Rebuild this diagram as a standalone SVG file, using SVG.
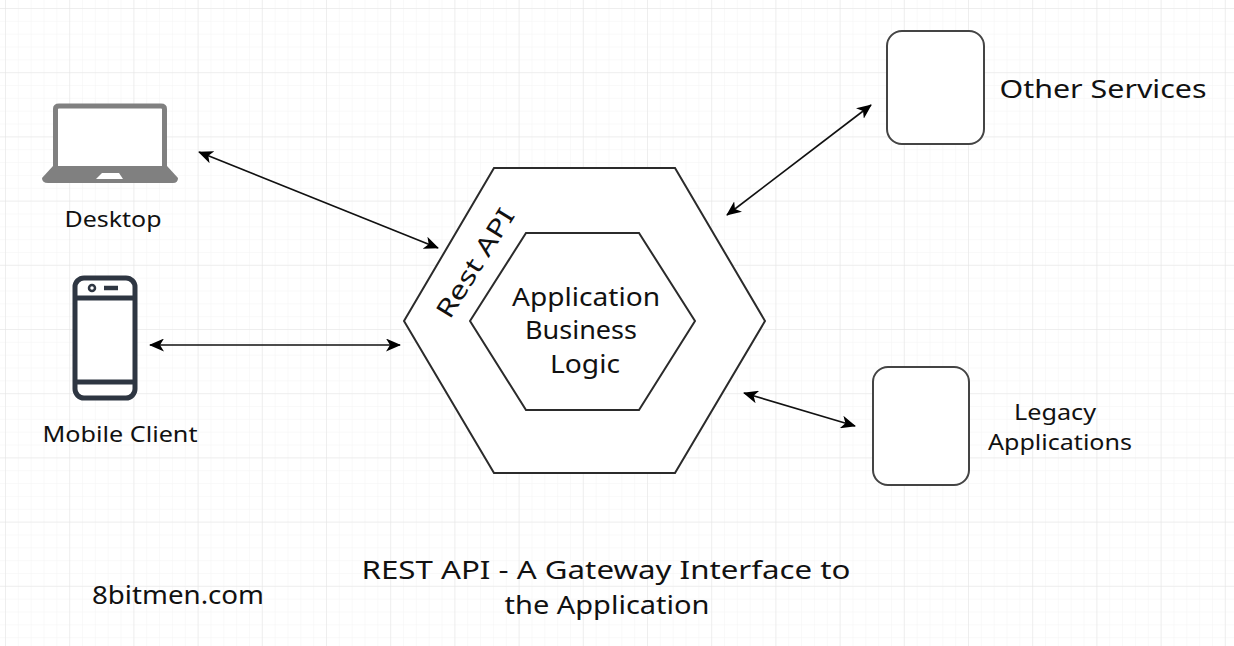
<svg xmlns="http://www.w3.org/2000/svg" width="1234" height="646" viewBox="0 0 1234 646">
<defs>
<pattern id="minor" x="5" y="8" width="12.84" height="12.84" patternUnits="userSpaceOnUse"><path d="M12.84 0H0V12.84" fill="none" stroke="#f4f4f4" stroke-width="1"/></pattern>
<pattern id="major" x="5" y="8" width="64.2" height="64.2" patternUnits="userSpaceOnUse"><path d="M64.2 0H0V64.2" fill="none" stroke="#e4e4e4" stroke-width="1"/></pattern>
<marker id="ah" viewBox="0 0 15 13" refX="14" refY="6.5" markerWidth="15" markerHeight="13" markerUnits="userSpaceOnUse" orient="auto-start-reverse"><path d="M0 0L15 6.5L0 13L4 6.5Z" fill="#000"/></marker>
</defs>
<style>
text{font-family:"Comic Sans MS","Noto Sans","DejaVu Sans",sans-serif;fill:#111;text-anchor:middle}
.hex{fill:#fff;stroke:#2b2b2b;stroke-width:2}
.box{fill:#fff;stroke:#444;stroke-width:2}
.c{stroke:#111;stroke-width:1.7;fill:none;marker-start:url(#ah);marker-end:url(#ah)}
.t26{font-size:26px}.t25{font-size:25px}.t22{font-size:22px}
</style>
<rect width="1234" height="646" fill="#fff"/>
<rect width="1234" height="646" fill="url(#minor)"/>
<rect width="1234" height="646" fill="url(#major)"/>
<g id="desktop">
<path d="M55.500 167V109Q55.500 106 59 106H161Q164.500 106 164.500 109V167" fill="#fff" stroke="#808080" stroke-width="5"/>
<path d="M53 166H167L178 178Q178 183 173 183H48Q42 183 42 178Z" fill="#808080"/>
<path d="M96 179L102 173H119L123 179Z" fill="#fff"/>
<text class="t22" x="113" y="227" textLength="97" lengthAdjust="spacingAndGlyphs">Desktop</text>
</g>
<g id="mobile">
<rect x="75" y="278" width="60" height="120" rx="9" fill="#fff" stroke="#2e3642" stroke-width="5"/>
<path d="M75 298H135M75 382H135" stroke="#2e3642" stroke-width="5" fill="none"/>
<circle cx="92" cy="288" r="3" fill="none" stroke="#2e3642" stroke-width="2.500"/>
<path d="M104 288H118" stroke="#2e3642" stroke-width="4.500"/>
<text class="t22" x="120" y="442" textLength="155" lengthAdjust="spacingAndGlyphs">Mobile Client</text>
</g>
<g id="rest-api">
<polygon class="hex" points="494,168 675,168 765,321 675,473 494,473 404,321"/>
<text class="t25" transform="translate(475 263) rotate(-58)" y="9" textLength="124" lengthAdjust="spacingAndGlyphs">Rest API</text>
</g>
<g id="business-logic">
<polygon class="hex" points="526,233 639,233 695,321 639,410 526,410 470,321"/>
<text class="t26" x="586" y="306" textLength="148" lengthAdjust="spacingAndGlyphs">Application</text>
<text class="t26" x="581" y="339" textLength="112" lengthAdjust="spacingAndGlyphs">Business</text>
<text class="t26" x="585" y="373" textLength="70" lengthAdjust="spacingAndGlyphs">Logic</text>
</g>
<g id="other-services">
<rect class="box" x="887" y="31" width="97" height="113" rx="15"/>
<text class="t26" x="1103" y="98" textLength="207" lengthAdjust="spacingAndGlyphs">Other Services</text>
</g>
<g id="legacy">
<rect class="box" x="873" y="367" width="96" height="118" rx="15"/>
<text class="t22" x="1055" y="420" textLength="82" lengthAdjust="spacingAndGlyphs">Legacy</text>
<text class="t22" x="1060" y="450" textLength="144" lengthAdjust="spacingAndGlyphs">Applications</text>
</g>
<g id="connectors">
<line class="c" x1="199" y1="152" x2="438" y2="248"/>
<line class="c" x1="150" y1="345" x2="400" y2="345"/>
<line class="c" x1="727" y1="215" x2="871" y2="105"/>
<line class="c" x1="744" y1="393" x2="855" y2="426"/>
</g>
<g id="captions">
<text class="t26" x="606" y="579" textLength="489" lengthAdjust="spacingAndGlyphs">REST API - A Gateway Interface to</text>
<text class="t26" x="607" y="614" textLength="205" lengthAdjust="spacingAndGlyphs">the Application</text>
<text class="t26" x="178" y="604" textLength="172" lengthAdjust="spacingAndGlyphs">8bitmen.com</text>
</g>
</svg>
